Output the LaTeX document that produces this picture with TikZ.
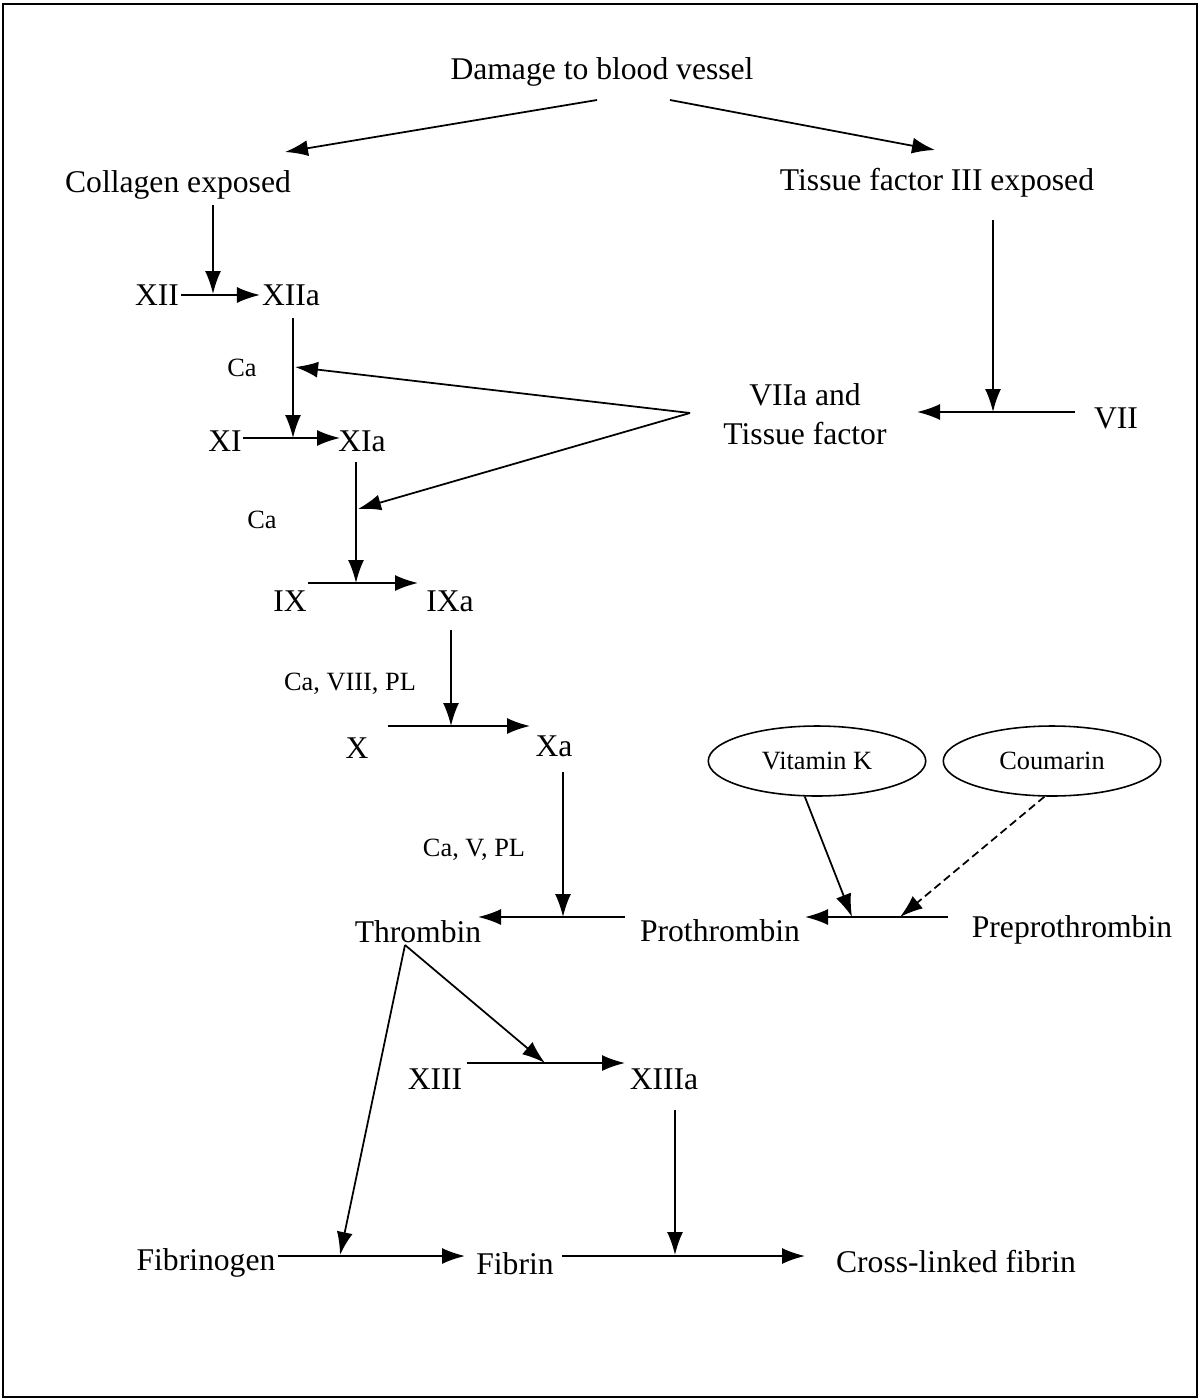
\documentclass[tikz,border=0pt]{standalone}
\usepackage{fontspec}
\setmainfont{Liberation Serif}
\usetikzlibrary{arrows.meta,shapes.geometric}

\begin{document}
\begin{tikzpicture}[
  txt/.style={font=\fontsize{18}{22}\selectfont, inner sep=1pt},
  sml/.style={font=\fontsize{15}{18}\selectfont, inner sep=1pt},
  oval/.style={ellipse, draw, line width=0.9pt, minimum width=4.35cm, minimum height=1.4cm, inner sep=0pt, font=\fontsize{15}{18}\selectfont},
  arr/.style={-{Latex[length=4.6mm,width=3.2mm]}, line width=1pt},
  inhib/.style={arr, dash pattern=on 4.5pt off 2.5pt}]

\begin{scope}[x=0.02cm,y=-0.02cm]

\useasboundingbox (0,0) rectangle (1199,1399);
\draw[line width=1.5pt] (3,4) rectangle (1197,1397);

% factors
\node[txt] (dmg) at (602,72) {Damage to blood vessel};
\node[txt] (coll) at (178,185) {Collagen exposed};
\node[txt] (tiss) at (937,183) {Tissue factor III exposed};
\node[txt] (XII) at (157,295) {XII};
\node[txt] (XIIa) at (291,295) {XIIa};
\node[txt] (XI) at (225,441) {XI};
\node[txt] (XIa) at (362,441) {XIa};
\node[txt, align=center] (VIIa) at (805,414) {VIIa and\\Tissue factor};
\node[txt] (VII) at (1116,418) {VII};
\node[txt] (IX) at (290,601) {IX};
\node[txt] (IXa) at (450,601) {IXa};
\node[txt] (X) at (357,748) {X};
\node[txt] (Xa) at (554,746) {Xa};
\node[txt] (thr) at (418,932) {Thrombin};
\node[txt] (pro) at (720,931) {Prothrombin};
\node[txt] (prepro) at (1072,930) {Preprothrombin};
\node[txt] (XIII) at (435,1079) {XIII};
\node[txt] (XIIIa) at (664,1079) {XIIIa};
\node[txt] (fgen) at (206,1263) {Fibrinogen};
\node[txt] (fib) at (515,1264) {Fibrin};
\node[txt] (xfib) at (956,1262) {Cross-linked fibrin};

% cofactors
\foreach \n/\p/\t in {ca1/{(242,368)}/Ca, ca2/{(262,520)}/Ca, ca3/{(350,684)}/{Ca, VIII, PL}, ca4/{(474,850)}/{Ca, V, PL}}
  \node[sml] (\n) at \p {\t};

\node[oval] (vitk) at (817,761) {Vitamin K};
\node[oval] (coum) at (1052,761) {Coumarin};

% ends of the lines
\coordinate (dmgL) at (597,100);
\coordinate (dmgR) at (670,100);
\coordinate (collT) at (285,152);
\coordinate (tissT) at (935,150);
\coordinate (collB) at (213,205);
\coordinate (jXII) at (213,294);
\coordinate (XIIaB) at (293,318);
\coordinate (jXI) at (293,438);
\coordinate (apex) at (690,413);
\coordinate (hitXIIa) at (295,367);
\coordinate (hitXIa) at (358,509);
\coordinate (XIs) at (243,438);
\coordinate (XIe) at (340,438);
\coordinate (XIaB) at (356,462);
\coordinate (jIX) at (356,583);
\coordinate (VIIs) at (1075,412);
\coordinate (VIIe) at (917,412);
\coordinate (tissB) at (993,220);
\coordinate (jVII) at (993,412);
\coordinate (IXs) at (308,583);
\coordinate (IXe) at (418,583);
\coordinate (IXaB) at (451,630);
\coordinate (jX) at (451,726);
\coordinate (Xs) at (388,726);
\coordinate (Xe) at (530,726);
\coordinate (XaB) at (563,772);
\coordinate (jthr) at (563,917);
\coordinate (pros) at (625,917);
\coordinate (proe) at (478,917);
\coordinate (preS) at (948,917);
\coordinate (preE) at (805,917);
\coordinate (jK) at (852,917);
\coordinate (jC) at (900,917);
\coordinate (thrB) at (405,945);
\coordinate (jXIII) at (545,1063);
\coordinate (jfgen) at (340,1255);
\coordinate (XIIIs) at (467,1063);
\coordinate (XIIIe) at (625,1063);
\coordinate (XIIIaB) at (675,1110);
\coordinate (jfib) at (675,1255);
\coordinate (fgenE) at (465,1256);
\coordinate (fibs) at (562,1256);
\coordinate (fibE) at (805,1256);

% arrows
\draw[arr] (dmgL) -- (collT);
\draw[arr] (dmgR) -- (tissT);
\draw[arr] (collB) -- (jXII);
\draw[arr] (XII.east) -- (XIIa.west);
\draw[arr] (XIIaB) -- (jXI);
\draw[arr] (apex) -- (hitXIIa);
\draw[arr] (apex) -- (hitXIa);
\draw[arr] (XIs) -- (XIe);
\draw[arr] (XIaB) -- (jIX);
\draw[arr] (tissB) -- (jVII);
\draw[arr] (VIIs) -- (VIIe);
\draw[arr] (IXs) -- (IXe);
\draw[arr] (IXaB) -- (jX);
\draw[arr] (Xs) -- (Xe);
\draw[arr] (XaB) -- (jthr);
\draw[arr] (pros) -- (proe);
\draw[arr] (preS) -- (preE);
\draw[arr] (vitk.251) -- (jK);
\draw[inhib] (coum.258) -- (jC);
\draw[arr] (thrB) -- (jXIII);
\draw[arr] (thrB) -- (jfgen);
\draw[arr] (XIIIs) -- (XIIIe);
\draw[arr] (XIIIaB) -- (jfib);
\draw[arr] (fgen.east |- fgenE) -- (fgenE);
\draw[arr] (fibs) -- (fibE);

\end{scope}

\end{tikzpicture}
\end{document}
